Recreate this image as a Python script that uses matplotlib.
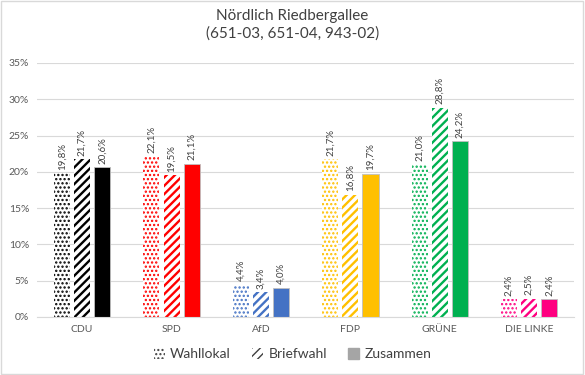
import numpy as np
import matplotlib.pyplot as plt
from matplotlib.patches import Patch, Rectangle

# Daten
parteien = ["CDU", "SPD", "AfD", "FDP", "GRÜNE", "DIE LINKE"]
wahllokal = [19.8, 22.1, 4.4, 21.7, 21.0, 2.4]
briefwahl = [21.7, 19.5, 3.4, 16.8, 28.8, 2.5]
zusammen = [20.6, 21.1, 4.0, 19.7, 24.2, 2.4]
farben = ["#000000", "#FF0000", "#4472C4", "#FFC000", "#00B050", "#FF0080"]
y_ticks = [0, 5, 10, 15, 20, 25, 30, 35]

plt.rcParams['font.family'] = ['Lato', 'DejaVu Sans']

fig = plt.figure(figsize=(5.85, 3.75), dpi=100)
ax = fig.add_axes([0.064, 0.155, 0.917, 0.677])

x = np.arange(len(parteien))
breite = 0.18
abstand = 0.225
# (werte, versatz, schraffur, schraffur-linienbreite)
serien = [(wahllokal, -abstand, "....", 1.1), (briefwahl, 0, "////", 1.7), (zusammen, abstand, None, 1.0)]

for werte, off, hatch, hlw in serien:
    for i, v in enumerate(werte):
        with plt.rc_context({'hatch.linewidth': hlw}):
            if hatch:
                ax.bar(x[i] + off, v, breite, facecolor="white", edgecolor=farben[i],
                       hatch=hatch, linewidth=0, zorder=2)
            else:
                ax.bar(x[i] + off, v, breite, color=farben[i], edgecolor="#BFBFBF",
                       linewidth=0.6, zorder=2)
        ax.text(x[i] + off, v + 0.5, f"{v:.1f}%".replace(".", ","), rotation=90,
                ha="center", va="bottom", fontsize=7, color="#404040")

ax.set_xlim(-0.5, len(parteien) - 0.5)
ax.set_ylim(0, 35)
ax.set_yticks(y_ticks)
ax.set_yticklabels([f"{t}%" for t in y_ticks])
ax.set_xticks(x)
ax.set_xticklabels(parteien)
ax.tick_params(length=0, labelsize=7.5, colors="#595959", pad=6)
ax.grid(axis="y", color="#D9D9D9", linewidth=0.8, zorder=0)
for s in ["top", "right", "left"]:
    ax.spines[s].set_visible(False)
ax.spines["bottom"].set_color("#D9D9D9")

fig.suptitle("Nördlich Riedbergallee\n(651-03, 651-04, 943-02)", y=0.975,
             fontsize=11, color="#404040", linespacing=1.3)

with plt.rc_context({'hatch.linewidth': 1.1}):
    h1 = Patch(facecolor="white", edgecolor="#404040", hatch="....", linewidth=0)
with plt.rc_context({'hatch.linewidth': 1.7}):
    h2 = Patch(facecolor="white", edgecolor="#404040", hatch="////", linewidth=0)
h3 = Patch(facecolor="#A5A5A5", edgecolor="#A5A5A5")
fig.legend([h1, h2, h3], ["Wahllokal", "Briefwahl", "Zusammen"], loc="center",
           bbox_to_anchor=(0.5, 0.055), ncol=3, frameon=False, fontsize=10,
           handlelength=0.8, handleheight=0.8, columnspacing=1.5, handletextpad=0.4,
           labelcolor="#404040")

fig.patches.append(Rectangle((0.002, 0.003), 0.995, 0.994, transform=fig.transFigure,
                             fill=False, edgecolor="#D9D9D9", linewidth=1))

fig.savefig("out.png", dpi=100)
